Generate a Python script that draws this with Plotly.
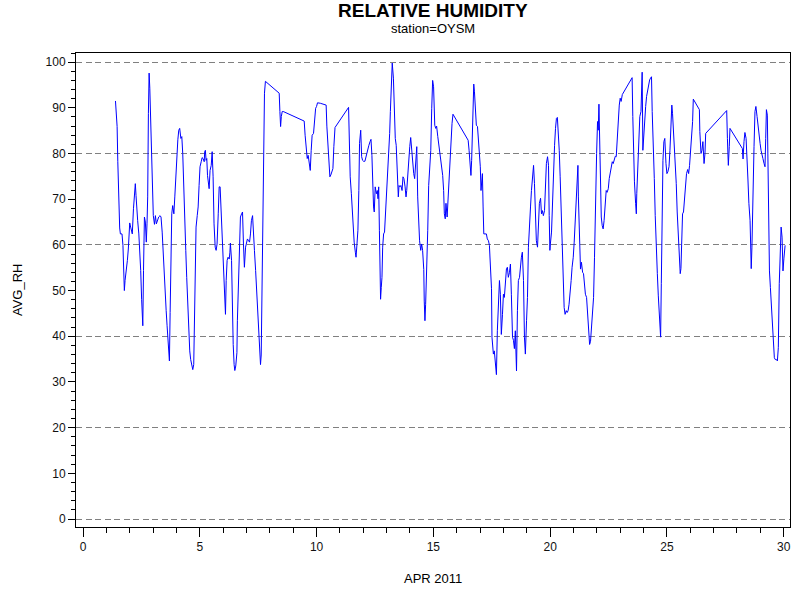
"""
Relative humidity at station OYSM, April 2011 (hourly AVG_RH vs day of month)
"""

import plotly.graph_objects as go

# day of month (fractional) and average relative humidity
day = [
    1.39, 1.41, 1.46, 1.49, 1.53, 1.57, 1.60, 1.67, 1.71, 1.74, 1.77, 1.80, 1.86, 1.90,
    1.94, 1.97, 2.00, 2.04, 2.09, 2.11, 2.16, 2.20, 2.24, 2.27, 2.30, 2.34, 2.39, 2.43,
    2.47, 2.51, 2.56, 2.59, 2.63, 2.67, 2.71, 2.74, 2.77, 2.80, 2.83, 2.86, 2.89, 2.93,
    2.97, 3.01, 3.06, 3.10, 3.14, 3.19, 3.24, 3.30, 3.34, 3.39, 3.43, 3.47, 3.51, 3.56,
    3.60, 3.64, 3.67, 3.70, 3.73, 3.76, 3.80, 3.84, 3.89, 3.93, 3.97, 4.01, 4.06, 4.10,
    4.14, 4.19, 4.23, 4.27, 4.31, 4.36, 4.40, 4.44, 4.49, 4.53, 4.57, 4.61, 4.66, 4.70,
    4.74, 4.77, 4.80, 4.84, 4.89, 4.93, 4.97, 5.01, 5.06, 5.10, 5.14, 5.19, 5.21, 5.24,
    5.27, 5.30, 5.33, 5.37, 5.40, 5.44, 5.49, 5.53, 5.57, 5.61, 5.66, 5.70, 5.74, 5.79,
    5.83, 5.87, 5.91, 5.96, 6.00, 6.03, 6.06, 6.10, 6.13, 6.17, 6.21, 6.26, 6.29, 6.31,
    6.36, 6.39, 6.43, 6.47, 6.50, 6.54, 6.59, 6.61, 6.66, 6.70, 6.74, 6.79, 6.83, 6.87,
    6.91, 6.96, 7.00, 7.04, 7.09, 7.13, 7.17, 7.21, 7.26, 7.30, 7.34, 7.39, 7.43, 7.47,
    7.51, 7.56, 7.60, 7.63, 7.66, 7.69, 7.71, 7.74, 7.77, 7.81, 8.40, 8.43, 8.46, 8.49,
    8.53, 8.57, 8.61, 9.47, 9.51, 9.56, 9.60, 9.64, 9.69, 9.73, 9.77, 9.81, 9.87, 9.91,
    9.96, 10.00, 10.04, 10.16, 10.30, 10.41, 10.44, 10.49, 10.53, 10.57, 10.61, 10.66,
    10.70, 10.74, 10.79, 11.37, 11.40, 11.44, 11.49, 11.53, 11.57, 11.61, 11.66, 11.69,
    11.73, 11.77, 11.81, 11.84, 11.89, 11.93, 11.97, 12.01, 12.07, 12.11, 12.16, 12.20,
    12.24, 12.29, 12.33, 12.37, 12.40, 12.44, 12.47, 12.51, 12.56, 12.60, 12.63, 12.66,
    12.69, 12.71, 12.74, 12.77, 12.80, 12.83, 12.87, 12.91, 12.96, 13.00, 13.04, 13.09,
    13.13, 13.16, 13.20, 13.24, 13.29, 13.33, 13.37, 13.41, 13.44, 13.47, 13.50, 13.53,
    13.57, 13.61, 13.66, 13.70, 13.74, 13.79, 13.83, 13.86, 13.90, 13.94, 13.99, 14.03,
    14.07, 14.11, 14.16, 14.20, 14.24, 14.29, 14.33, 14.37, 14.41, 14.46, 14.50, 14.54,
    14.59, 14.61, 14.64, 14.67, 14.71, 14.76, 14.80, 14.84, 14.89, 14.93, 14.97, 15.01,
    15.06, 15.10, 15.14, 15.19, 15.23, 15.27, 15.31, 15.36, 15.40, 15.44, 15.47, 15.51,
    15.54, 15.59, 15.63, 15.67, 15.71, 15.76, 15.80, 15.84, 16.44, 16.49, 16.53, 16.57,
    16.61, 16.64, 16.69, 16.73, 16.76, 16.80, 16.84, 16.89, 16.93, 16.97, 17.01, 17.04,
    17.07, 17.10, 17.13, 17.16, 17.21, 17.27, 17.31, 17.36, 17.40, 17.44, 17.49, 17.51,
    17.54, 17.57, 17.61, 17.66, 17.70, 17.74, 17.79, 17.83, 17.87, 17.91, 17.96, 18.00,
    18.04, 18.09, 18.13, 18.17, 18.21, 18.26, 18.30, 18.34, 18.39, 18.43, 18.47, 18.51,
    18.56, 18.60, 18.64, 18.69, 18.73, 18.77, 18.81, 18.86, 18.90, 18.94, 18.99, 19.03,
    19.07, 19.11, 19.16, 19.20, 19.24, 19.29, 19.33, 19.37, 19.41, 19.46, 19.50, 19.54,
    19.59, 19.63, 19.67, 19.71, 19.76, 19.80, 19.84, 19.89, 19.93, 19.96, 19.99, 20.01,
    20.06, 20.10, 20.14, 20.19, 20.23, 20.27, 20.31, 20.34, 20.39, 20.43, 20.47, 20.51,
    20.56, 20.60, 20.64, 20.69, 20.73, 20.77, 20.81, 20.86, 20.90, 20.94, 20.99, 21.03,
    21.07, 21.11, 21.16, 21.19, 21.21, 21.26, 21.30, 21.34, 21.39, 21.43, 21.47, 21.51,
    21.56, 21.60, 21.64, 21.69, 21.73, 21.77, 21.81, 21.86, 21.90, 21.94, 21.99, 22.03,
    22.06, 22.09, 22.11, 22.14, 22.19, 22.23, 22.27, 22.31, 22.36, 22.40, 22.44, 22.49,
    22.53, 22.57, 22.61, 22.66, 22.70, 22.74, 22.79, 22.83, 22.87, 22.91, 22.96, 23.00,
    23.04, 23.09, 23.51, 23.54, 23.57, 23.61, 23.66, 23.69, 23.71, 23.76, 23.80, 23.84,
    23.89, 23.91, 23.94, 23.97, 24.00, 24.04, 24.09, 24.13, 24.17, 24.21, 24.26, 24.30,
    24.34, 24.37, 24.41, 24.46, 24.50, 24.54, 24.59, 24.63, 24.67, 24.70, 24.73, 24.76,
    24.79, 24.83, 24.87, 24.91, 24.96, 25.00, 25.04, 25.09, 25.13, 25.17, 25.21, 25.24,
    25.27, 25.31, 25.36, 25.40, 25.44, 25.49, 25.53, 25.57, 25.60, 25.63, 25.67, 25.71,
    25.76, 25.80, 25.84, 25.89, 25.93, 25.97, 26.01, 26.06, 26.10, 26.13, 26.39, 26.41,
    26.46, 26.50, 26.54, 26.59, 26.63, 26.66, 27.56, 27.59, 27.63, 27.67, 27.70, 28.23,
    28.26, 28.30, 28.34, 28.39, 28.43, 28.47, 28.51, 28.56, 28.59, 28.61, 28.64, 28.69,
    28.73, 28.77, 28.81, 28.86, 28.90, 28.94, 28.99, 29.03, 29.07, 29.11, 29.16, 29.20,
    29.23, 29.26, 29.30, 29.34, 29.39, 29.43, 29.47, 29.51, 29.56, 29.60, 29.64, 29.69,
    29.73, 29.77, 29.81, 29.86, 29.89, 29.93, 29.97, 30.01, 30.06,
]

avg_rh = [
    91.5, 89.5, 85.9, 78.2, 68.6, 63.7, 62.4, 62.4, 59.9, 53.6, 50.0, 52.2, 54.6, 56.6,
    59.1, 62.6, 64.8, 63.9, 62.8, 62.4, 67.9, 71.2, 73.4, 70.8, 67.7, 65.3, 62.4, 59.3,
    54.4, 48.1, 42.3, 54.4, 66.1, 65.0, 60.6, 64.6, 70.5, 88.8, 97.6, 94.3, 88.4, 80.7,
    70.8, 66.4, 64.5, 66.4, 64.6, 65.7, 66.1, 66.4, 66.1, 62.8, 58.4, 52.9, 48.9, 45.6,
    42.3, 38.2, 35.3, 34.6, 45.2, 54.4, 66.8, 68.6, 66.8, 70.5, 75.6, 80.0, 83.0, 85.1,
    85.5, 83.3, 83.7, 80.0, 71.6, 63.9, 58.8, 52.9, 45.9, 40.4, 36.8, 34.9, 33.5, 32.7,
    33.8, 42.6, 57.7, 63.9, 66.4, 68.3, 73.0, 77.1, 78.2, 79.1, 78.9, 78.2, 80.4, 80.7,
    78.5, 78.9, 75.2, 73.8, 72.3, 76.3, 77.4, 80.4, 74.9, 64.6, 59.5, 58.8, 60.2, 66.8,
    72.7, 72.7, 67.4, 61.3, 56.6, 52.5, 48.5, 44.8, 52.2, 56.6, 57.3, 56.9, 58.4, 60.4,
    56.6, 47.0, 38.2, 33.8, 32.5, 33.5, 36.4, 43.4, 51.1, 58.0, 66.1, 66.8, 67.2, 60.2,
    55.1, 59.5, 60.6, 61.3, 60.9, 60.6, 62.4, 65.3, 66.4, 60.2, 58.8, 54.4, 50.0, 44.8,
    40.4, 36.8, 33.8, 35.9, 49.6, 65.7, 75.2, 88.4, 93.2, 95.8, 93.2, 89.2, 85.9, 88.1,
    89.2, 89.2, 89.1, 87.1, 84.0, 80.0, 78.9, 79.6, 77.8, 76.3, 80.7, 84.0, 84.4, 87.3,
    89.9, 90.3, 91.1, 91.0, 90.8, 90.6, 86.0, 80.7, 77.8, 74.9, 75.3, 76.0,
    76.7, 81.5, 85.7, 90.1, 83.3, 74.9, 71.2, 67.2, 64.2, 60.6, 58.4, 57.3,
    60.2, 63.2, 71.9, 82.2, 85.1, 79.3, 78.5, 78.3, 78.3, 79.3, 80.0, 81.5,
    81.8, 82.6, 83.1, 79.6, 72.7, 68.3, 67.2, 72.7, 71.2, 71.9, 70.1, 72.7,
    63.2, 51.5, 48.1, 50.7, 52.9, 59.5, 62.4, 62.8, 67.2, 72.0, 76.7, 80.4,
    84.4, 89.2, 95.4, 99.8, 96.5, 88.8, 83.3, 81.8, 76.7, 71.9, 70.5, 73.0,
    72.7, 73.0, 71.9, 74.9, 74.5, 72.7, 70.5, 71.9, 75.6, 79.3, 81.5, 83.5,
    80.7, 77.4, 75.6, 74.5, 77.8, 81.5, 70.5, 64.6, 60.9, 58.8, 60.2, 58.8,
    54.6, 47.7, 43.4, 47.0, 52.9, 63.2, 73.0, 76.3, 80.7, 89.9, 96.0, 94.6,
    86.2, 85.5, 86.0, 83.7, 82.2, 80.4, 78.5, 77.4, 75.2, 71.9, 66.8, 65.7,
    69.1, 66.1, 70.5, 75.6, 79.6, 82.2, 86.6, 88.6, 83.3, 82.9, 80.7, 77.1,
    75.2, 78.5, 89.9, 95.2, 93.5, 88.8, 86.2, 85.9, 83.3, 81.1, 77.1, 71.9,
    74.5, 75.6, 68.3, 62.4, 62.4, 62.4, 61.3, 60.9, 59.9, 55.1, 50.4, 39.8,
    36.4, 36.1, 36.8, 34.2, 31.6, 41.2, 48.5, 52.2, 49.2, 40.4, 44.8, 49.2,
    48.5, 51.1, 54.8, 55.1, 52.9, 54.0, 55.8, 49.2, 39.8, 39.1, 37.3, 41.2,
    32.4, 45.6, 52.2, 52.9, 55.8, 57.3, 58.4, 52.2, 39.8, 36.1, 43.4, 48.5,
    59.5, 62.4, 68.3, 71.9, 75.6, 77.4, 73.4, 67.7, 60.9, 59.5, 64.6, 69.1,
    70.2, 66.8, 67.5, 66.4, 67.5, 71.9, 77.8, 79.3, 77.4, 66.4, 58.8, 60.2,
    62.8, 69.1, 76.8, 81.8, 85.5, 87.7, 87.9, 85.5, 80.7, 74.9, 67.2, 59.5,
    53.7, 46.3, 44.8, 45.6, 45.2, 45.6, 47.0, 49.2, 52.2, 55.1, 57.3, 60.6,
    64.2, 68.6, 73.8, 77.4, 70.5, 59.1, 54.7, 56.2, 54.0, 53.7, 51.5, 49.2,
    48.5, 45.9, 41.2, 38.2, 38.9, 41.9, 46.3, 48.5, 57.3, 70.8, 80.0, 87.0,
    85.1, 90.8, 84.8, 73.0, 66.1, 64.2, 63.5, 65.3, 69.4, 71.9, 71.5, 72.3,
    74.5, 76.0, 77.1, 78.2, 77.8, 78.9, 79.4, 79.3, 83.7, 88.4, 90.6, 92.1,
    91.4, 92.9, 96.6, 88.1, 77.8, 73.8, 69.1, 66.8, 71.2, 77.1, 81.5, 88.1,
    89.2, 94.7, 97.8, 80.7, 83.7, 87.0, 90.3, 92.5, 93.6, 95.0, 96.1, 96.5,
    96.8, 89.2, 83.7, 74.5, 66.4, 59.1, 53.7, 49.0, 44.9, 42.0, 39.8, 51.5,
    68.6, 78.5, 82.6, 83.3, 77.8, 75.6, 76.0, 77.1, 80.7, 84.4, 90.6, 88.8,
    86.1, 82.6, 78.5, 73.4, 67.2, 60.6, 55.8, 53.7, 54.8, 61.7, 66.8, 67.2,
    70.5, 73.8, 75.6, 76.5, 75.6, 77.4, 80.4, 83.7, 87.0, 91.9, 89.6, 84.8,
    80.0, 80.7, 82.6, 77.8, 80.0, 84.4, 89.4, 83.3, 77.4, 81.5, 85.5, 81.1,
    78.8, 82.6, 84.6, 83.3, 80.0, 74.2, 69.1, 65.4, 59.1, 54.8, 59.5, 68.6,
    81.5, 89.2, 90.3, 88.1, 85.9, 83.7, 82.2, 80.7, 80.0, 78.9, 77.8, 77.1,
    83.3, 89.6, 88.4, 70.8, 54.3, 50.7, 46.7, 44.8, 39.8, 35.3, 34.9, 34.9,
    34.6, 37.5, 51.5, 57.6, 63.9, 61.7, 54.3, 57.1, 59.9,
]

x_range = [-0.3, 30.27]
y_range = [-1.75, 102.0]
font = "Liberation Sans"

fig = go.Figure()
fig.add_trace(go.Scatter(x=day, y=avg_rh, mode="lines",
                         line=dict(color="#0000FF", width=1), showlegend=False))

axis_common = dict(showline=True, linecolor="black", linewidth=1, mirror=True,
                   ticks="outside", tickcolor="black", tickwidth=1, zeroline=False,
                   showgrid=False, automargin=False,
                   tickfont=dict(family=font, size=12, color="#111"))


def label(text, x, y, size, angle=0):
    return dict(text=text, x=x, y=y, xref="paper", yref="paper", xanchor="center",
                yanchor="middle", textangle=angle, showarrow=False,
                font=dict(family=font, size=size, color="black"))


fig.update_layout(
    width=800, height=600,
    margin=dict(l=76, r=10, t=53, b=73),
    plot_bgcolor="white", paper_bgcolor="white",
    font=dict(family=font, size=12, color="black"),
    xaxis=dict(range=x_range, tick0=0, dtick=5, ticklen=9,
               minor=dict(dtick=1, ticks="outside", ticklen=5, tickcolor="black"),
               **axis_common),
    yaxis=dict(range=y_range, tick0=0, dtick=10, ticklen=7,
               minor=dict(dtick=2, ticks="outside", ticklen=4, tickcolor="black"),
               **axis_common),
    # second y axis only to draw the dashed reference lines every 20
    yaxis2=dict(range=y_range, overlaying="y", tick0=0, dtick=20, showgrid=True,
                gridcolor="#808080", griddash="6px,3.5px", gridwidth=1, automargin=False,
                showticklabels=False, ticks="", zeroline=False, showline=False),
    annotations=[
        label("<b>RELATIVE HUMIDITY</b>", 0.5, 1.0895, 19),
        label("station=OYSM", 0.5, 1.0527, 13),
        label("APR 2011", 0.5, -0.1097, 13),
        label("AVG_RH", -0.0826, 0.5, 13, angle=-90),
    ],
)

# invisible trace so the grid axis is drawn
fig.add_trace(go.Scatter(x=[None], y=[None], yaxis="y2", showlegend=False, hoverinfo="skip"))

# page body has a default 8px margin; drop it so the 800x600 figure fills the window
fig.write_html("out.html", config={"displayModeBar": False},
               post_script="document.body.style.margin = '0px';")
